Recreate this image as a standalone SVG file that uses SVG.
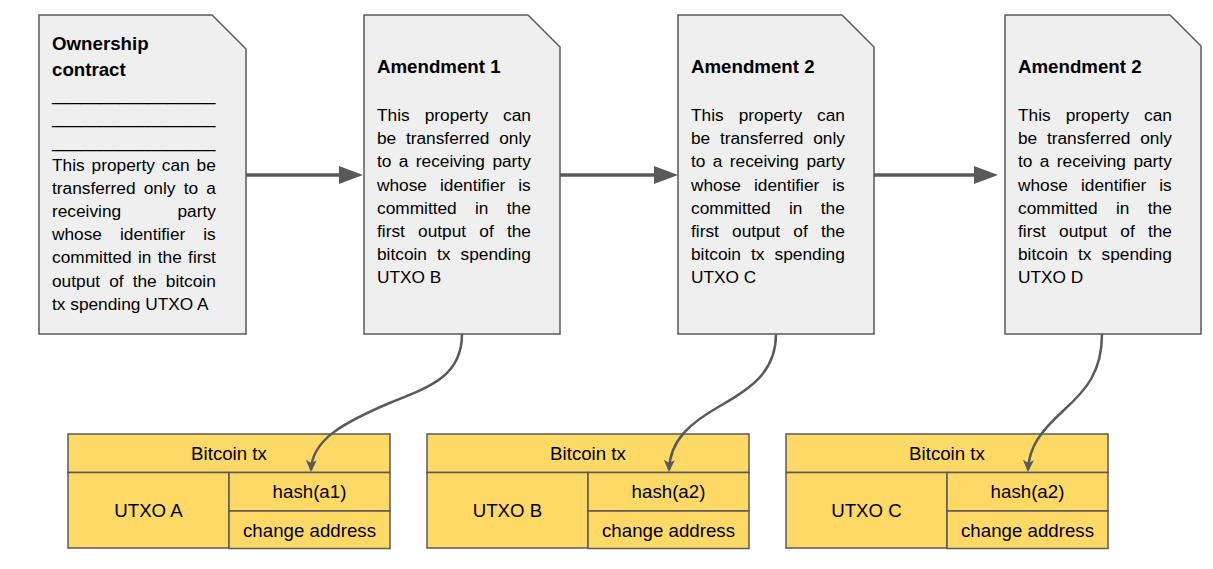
<svg xmlns="http://www.w3.org/2000/svg" width="1213" height="569" viewBox="0 0 1213 569">
<style>
.doc{fill:#efefef;stroke:#595959;stroke-width:1.5}
.cell{fill:#ffd966;stroke:#595959;stroke-width:1.5}
.title{font-family:"Liberation Sans",Arial,sans-serif;font-weight:bold;font-size:18.7px;fill:#000}
.body{font-family:"Liberation Sans",Arial,sans-serif;font-size:17.3px;fill:#000}
.tbl{font-family:"Liberation Sans",Arial,sans-serif;font-size:18.7px;fill:#000;text-anchor:middle}
.flow{fill:none;stroke:#595959;stroke-width:3.3}
.curve{fill:none;stroke:#595959;stroke-width:2.5}
</style>
<defs>
<marker id="tri" viewBox="0 0 24 18" refX="6" refY="9" markerWidth="24" markerHeight="18" markerUnits="userSpaceOnUse" orient="auto">
<path d="M0,0 L24,9 L0,18 Z" fill="#595959"/>
</marker>
<marker id="stealth" viewBox="-1 -7 15 14" refX="10" refY="0" markerWidth="15" markerHeight="14" markerUnits="userSpaceOnUse" orient="auto">
<path d="M0,-5.5 L12,0 L0,5.5 L3,0 Z" fill="#595959"/>
</marker>
</defs>

<g id="doc-ownership">
<path class="doc" d="M39,15 H212 L246,49 V334 H39 Z"/>
<text class="title" x="52" y="50">Ownership</text>
<text class="title" x="52" y="75.7">contract</text>
<text class="body" x="52" y="101.3">_________________</text>
<text class="body" x="52" y="124.4">_________________</text>
<text class="body" x="52" y="147.6">_________________</text>
<text class="body" x="52" y="170.7" word-spacing="2.1">This property can be</text>
<text class="body" x="52" y="193.9" word-spacing="3.4">transferred only to a</text>
<text class="body" x="52" y="217" word-spacing="51.5">receiving party</text>
<text class="body" x="52" y="240.2" word-spacing="13.2">whose identifier is</text>
<text class="body" x="52" y="263.3" word-spacing="1.5">committed in the first</text>
<text class="body" x="52" y="286.5" word-spacing="4.3">output of the bitcoin</text>
<text class="body" x="52" y="309.6">tx spending UTXO A</text>
</g>

<g id="doc-amendment1">
<path class="doc" d="M364,15 H528 L560,47 V334 H364 Z"/>
<text class="title" x="377" y="72.7">Amendment 1</text>
<text class="body" x="377" y="121" word-spacing="10.2">This property can</text>
<text class="body" x="377" y="144.2" word-spacing="4.9">be transferred only</text>
<text class="body" x="377" y="167.3" word-spacing="2.6">to a receiving party</text>
<text class="body" x="377" y="190.5" word-spacing="8.2">whose identifier is</text>
<text class="body" x="377" y="213.6" word-spacing="13.5">committed in the</text>
<text class="body" x="377" y="236.8" word-spacing="8.4">first output of the</text>
<text class="body" x="377" y="260" word-spacing="5.3">bitcoin tx spending</text>
<text class="body" x="377" y="283.1">UTXO B</text>
</g>

<g id="doc-amendment2a">
<path class="doc" d="M678,15 H842 L874,47 V334 H678 Z"/>
<text class="title" x="691" y="72.7">Amendment 2</text>
<text class="body" x="691" y="121" word-spacing="10.2">This property can</text>
<text class="body" x="691" y="144.2" word-spacing="4.9">be transferred only</text>
<text class="body" x="691" y="167.3" word-spacing="2.6">to a receiving party</text>
<text class="body" x="691" y="190.5" word-spacing="8.2">whose identifier is</text>
<text class="body" x="691" y="213.6" word-spacing="13.5">committed in the</text>
<text class="body" x="691" y="236.8" word-spacing="8.4">first output of the</text>
<text class="body" x="691" y="260" word-spacing="5.3">bitcoin tx spending</text>
<text class="body" x="691" y="283.1">UTXO C</text>
</g>

<g id="doc-amendment2b">
<path class="doc" d="M1005,15 H1170 L1201,46 V334 H1005 Z"/>
<text class="title" x="1018" y="73">Amendment 2</text>
<text class="body" x="1018" y="121" word-spacing="10.2">This property can</text>
<text class="body" x="1018" y="144.2" word-spacing="4.9">be transferred only</text>
<text class="body" x="1018" y="167.3" word-spacing="2.6">to a receiving party</text>
<text class="body" x="1018" y="190.5" word-spacing="8.2">whose identifier is</text>
<text class="body" x="1018" y="213.6" word-spacing="13.5">committed in the</text>
<text class="body" x="1018" y="236.8" word-spacing="8.4">first output of the</text>
<text class="body" x="1018" y="260" word-spacing="5.3">bitcoin tx spending</text>
<text class="body" x="1018" y="283.1">UTXO D</text>
</g>

<g id="tx-a">
<rect class="cell" x="68" y="434" width="322" height="38.5"/>
<rect class="cell" x="68" y="472.5" width="161" height="75.5"/>
<rect class="cell" x="229" y="472.5" width="161" height="38.5"/>
<rect class="cell" x="229" y="511" width="161" height="37.5"/>
<text class="tbl" x="229" y="460">Bitcoin tx</text>
<text class="tbl" x="148.5" y="517">UTXO A</text>
<text class="tbl" x="309.5" y="498">hash(a1)</text>
<text class="tbl" x="309.5" y="536.5">change address</text>
</g>

<g id="tx-b">
<rect class="cell" x="427" y="434" width="322" height="38.5"/>
<rect class="cell" x="427" y="472.5" width="161" height="75.5"/>
<rect class="cell" x="588" y="472.5" width="161" height="38.5"/>
<rect class="cell" x="588" y="511" width="161" height="37.5"/>
<text class="tbl" x="588" y="460">Bitcoin tx</text>
<text class="tbl" x="507.5" y="517">UTXO B</text>
<text class="tbl" x="668.5" y="498">hash(a2)</text>
<text class="tbl" x="668.5" y="536.5">change address</text>
</g>

<g id="tx-c">
<rect class="cell" x="786" y="434" width="322" height="38.5"/>
<rect class="cell" x="786" y="472.5" width="161" height="75.5"/>
<rect class="cell" x="947" y="472.5" width="161" height="38.5"/>
<rect class="cell" x="947" y="511" width="161" height="37.5"/>
<text class="tbl" x="947" y="460">Bitcoin tx</text>
<text class="tbl" x="866.5" y="517">UTXO C</text>
<text class="tbl" x="1027.5" y="498">hash(a2)</text>
<text class="tbl" x="1027.5" y="536.5">change address</text>
</g>

<g id="connectors">
<line class="flow" x1="246" y1="175" x2="345" y2="175" marker-end="url(#tri)"/>
<line class="flow" x1="560" y1="175" x2="660" y2="175" marker-end="url(#tri)"/>
<line class="flow" x1="874" y1="175" x2="980" y2="175" marker-end="url(#tri)"/>
<path class="curve" d="M462,334 C462,375 432,386 392,402 C342,423 312,440 311,470" marker-end="url(#stealth)"/>
<path class="curve" d="M776,334 C776,372 750,389 720,406 C690,423 670,440 669,470" marker-end="url(#stealth)"/>
<path class="curve" d="M1102,334 C1102,372 1086,390 1064,410 C1040,432 1029,447 1028,470" marker-end="url(#stealth)"/>
</g>
</svg>
